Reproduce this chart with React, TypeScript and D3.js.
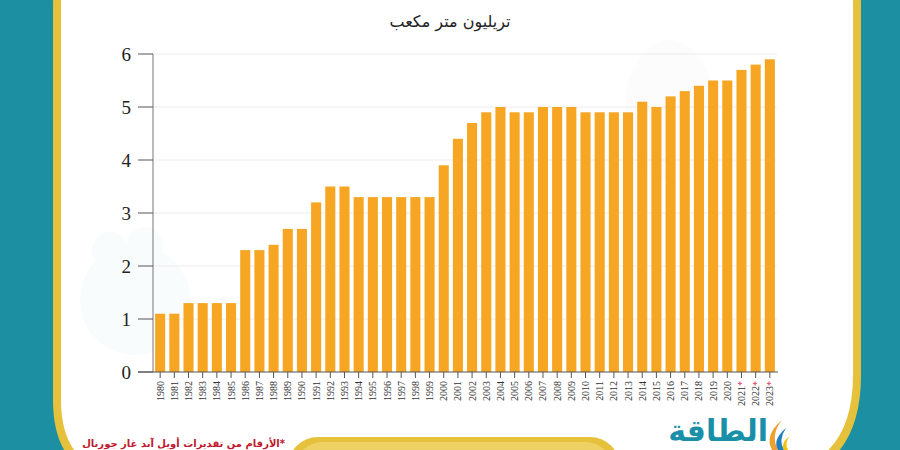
import React from "react";
import * as d3 from "d3";

const years = ["1980","1981","1982","1983","1984","1985","1986","1987","1988","1989","1990","1991","1992","1993","1994","1995","1996","1997","1998","1999","2000","2001","2002","2003","2004","2005","2006","2007","2008","2009","2010","2011","2012","2013","2014","2015","2016","2017","2018","2019","2020","2021","2022","2023"];
const values = [1.1,1.1,1.3,1.3,1.3,1.3,2.3,2.3,2.4,2.7,2.7,3.2,3.5,3.5,3.3,3.3,3.3,3.3,3.3,3.3,3.9,4.4,4.7,4.9,5.0,4.9,4.9,5.0,5.0,5.0,4.9,4.9,4.9,4.9,5.1,5.0,5.2,5.3,5.4,5.5,5.5,5.7,5.8,5.9];
const estimated = ["2021","2022","2023"];
const yTicks = [0,1,2,3,4,5,6];
const title = "تريليون متر مكعب";
const footnote = "*الأرقام من تقديرات أويل آند غاز جورنال";
const logoText = "الطاقة";

export default function App() {
  const W = 900, H = 450;
  const x = d3.scaleBand<string>().domain(years).range([153, 777]).paddingInner(0.29).paddingOuter(0.15);
  const y = d3.scaleLinear().domain([0, 6]).range([372, 54]);
  const barColor = "#f6a623";
  const teal = "#1c8fa3";
  const gold = "#e6c23c";

  const L = 57, R = 857, T = -70, B = 480;
  const rl = 80, rr = 105, rt = 75;
  const panel = `M${L + rt},${T} L${R - rt},${T} Q${R},${T} ${R},${T + rt} L${R},${B - rr} Q${R},${B} ${R - rr},${B} L${L + rl},${B} Q${L},${B} ${L},${B - rl} L${L},${T + rt} Q${L},${T} ${L + rt},${T} Z`;

  return (
    <svg width={W} height={H} style={{ position: "absolute", left: 0, top: 0 }} xmlns="http://www.w3.org/2000/svg">
      <rect x={0} y={0} width={W} height={H} fill={teal} />
      <path d={panel} fill="#ffffff" stroke={gold} strokeWidth={8} />
      <g opacity={0.02} fill="#1c8fa3">
        <circle cx={135} cy={300} r={55} />
        <circle cx={110} cy={250} r={18} />
        <circle cx={145} cy={245} r={18} />
      </g>
      <g opacity={0.025} fill="#888">
        <ellipse cx={670} cy={110} rx={45} ry={70} />
      </g>
      <text x={450} y={27} textAnchor="middle" fontFamily="'DejaVu Sans', sans-serif" fontSize={16} fill="#222" direction="rtl">{title}</text>
      {yTicks.filter(t => t > 0).map(t => (
        <line key={"g" + t} x1={153} x2={777} y1={y(t)} y2={y(t)} stroke="#ececec" strokeWidth={1} />
      ))}
      {years.map((yr, i) => (
        <rect key={yr} x={x(yr)} y={y(values[i])} width={x.bandwidth()} height={y(0) - y(values[i])} fill={barColor} />
      ))}
      <line x1={153} x2={153} y1={y(6)} y2={y(0)} stroke="#777" strokeWidth={1} />
      {yTicks.map(t => (
        <g key={"t" + t}>
          <line x1={138} x2={153} y1={y(t)} y2={y(t)} stroke="#555" strokeWidth={1} />
          <text x={131} y={y(t)} dy="0.35em" textAnchor="end" fontFamily="'Liberation Serif', serif" fontSize={19} fill="#222">{t}</text>
        </g>
      ))}
      <line x1={138} x2={778} y1={y(0)} y2={y(0)} stroke="#555" strokeWidth={1} />
      {years.map(yr => {
        const cx = (x(yr) as number) + x.bandwidth() / 2;
        const star = estimated.includes(yr);
        return (
          <g key={"x" + yr}>
            <line x1={cx} x2={cx} y1={y(0)} y2={y(0) + 6} stroke="#555" strokeWidth={1} />
            <text transform={`translate(${cx},${381}) rotate(-90)`} textAnchor="end" dominantBaseline="central" fontFamily="'Liberation Serif', serif" fontSize={10} fill="#333">
              {yr}{star ? <tspan fill="#e0406a">*</tspan> : null}
            </text>
          </g>
        );
      })}
      <rect x={288} y={437} width={332} height={60} rx={30} fill={gold} />
      <rect x={296} y={442} width={316} height={60} rx={26} fill="#f3df8a" opacity={0.5} />
      <text x={285} y={447} textAnchor="start" fontFamily="'DejaVu Sans', sans-serif" fontSize={10} fontWeight="bold" fill="#c0182e" direction="rtl">{footnote}</text>
      <text x={768} y={441} textAnchor="start" fontFamily="'DejaVu Sans', sans-serif" fontSize={30} fontWeight="bold" fill="#1a8fa8" direction="rtl">{logoText}</text>
      <g>
        <path d="M782,420 Q770,435 778,450 L772,450 Q764,435 782,420 Z" fill="#f0a030" />
        <path d="M786,428 Q778,440 784,450 L778,450 Q772,440 786,428 Z" fill="#1f7fbf" />
        <path d="M790,436 Q784,443 788,450 L784,450 Q780,443 790,436 Z" fill="#f5c200" />
      </g>
    </svg>
  );
}
